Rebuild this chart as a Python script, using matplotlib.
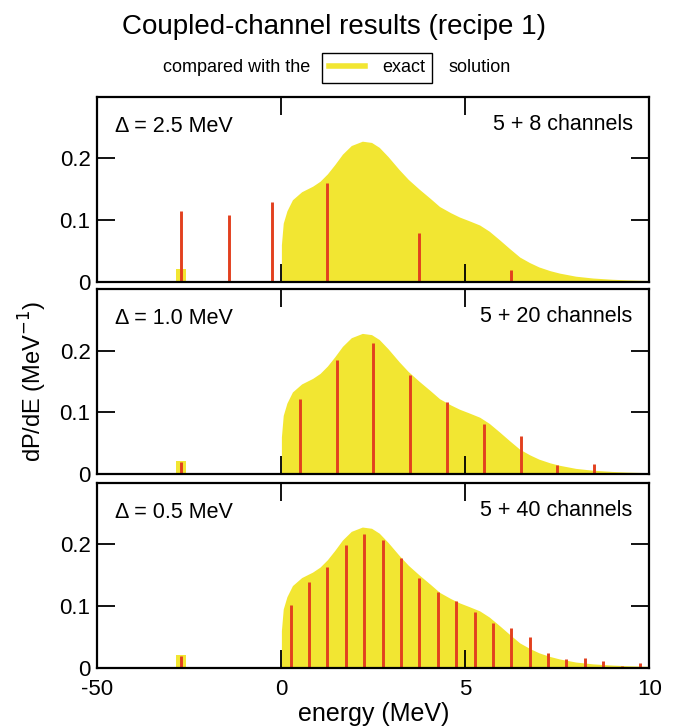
import numpy as np
import matplotlib
matplotlib.use("Agg")
import matplotlib.pyplot as plt
from matplotlib.lines import Line2D

plt.rcParams['font.family'] = ['Liberation Sans', 'DejaVu Sans']

# exact solution (continuum part)
exact_e = [0.0, 0.0, 0.05, 0.15, 0.3, 0.55, 0.85, 1.05, 1.25, 1.45, 1.66, 1.9,
           2.2, 2.45, 2.66, 2.9, 3.2, 3.45, 3.75, 4.05, 4.3, 4.6, 4.84, 5.1,
           5.39, 5.65, 5.93, 6.2, 6.48, 6.75, 7.0, 7.3, 7.56, 8.0, 8.47, 9.0,
           9.4, 10.0]
exact_p = [0.0, 0.06, 0.095, 0.115, 0.133, 0.146, 0.155, 0.163, 0.175, 0.19,
           0.207, 0.221, 0.228, 0.226, 0.218, 0.203, 0.182, 0.166, 0.150,
           0.135, 0.122, 0.112, 0.105, 0.099, 0.092, 0.082, 0.068, 0.054,
           0.040, 0.031, 0.024, 0.018, 0.014, 0.009, 0.006, 0.004, 0.003, 0.002]

# bound state of the exact solution
bound_e = -27.3
bound_p = 0.021

# coupled-channel results, one set per panel
cc_e = [
    [-27.3, -14.2, -2.5, 1.25, 3.75, 6.25, 8.75],
    [-27.3, -2.5, 0.5, 1.5, 2.5, 3.5, 4.5, 5.5, 6.5, 7.5, 8.5, 9.5],
    [-27.3, 0.25, 0.75, 1.25, 1.75, 2.25, 2.75, 3.25, 3.75, 4.25, 4.75,
     5.25, 5.75, 6.25, 6.75, 7.25, 7.75, 8.25, 8.75, 9.25, 9.75],
]
cc_p = [
    [0.114, 0.109, 0.130, 0.160, 0.079, 0.019, 0.002],
    [0.019, 0.002, 0.122, 0.185, 0.212, 0.160, 0.116, 0.081, 0.061, 0.015,
     0.016, 0.002],
    [0.019, 0.102, 0.139, 0.163, 0.199, 0.217, 0.207, 0.178, 0.145, 0.123,
     0.108, 0.090, 0.072, 0.065, 0.049, 0.024, 0.014, 0.015, 0.010, 0.003,
     0.007],
]
delta_labels = ["\u0394 = 2.5 MeV", "\u0394 = 1.0 MeV", "\u0394 = 0.5 MeV"]
channel_labels = ["5 + 8 channels", "5 + 20 channels", "5 + 40 channels"]

yellow = "#f2e632"
red = "#e2401f"


# negative energies are squeezed by a factor 10
def fwd(x):
    x = np.asarray(x, dtype=float)
    return np.where(x < 0, x / 10.0, x)


def inv(x):
    x = np.asarray(x, dtype=float)
    return np.where(x < 0, x * 10.0, x)


fig = plt.figure(figsize=(6.77, 7.28), dpi=100)

left, width = 0.144, 0.815
bottoms = [0.613, 0.349, 0.083]
height = 0.254

axes = []
for i in range(3):
    ax = fig.add_axes([left, bottoms[i], width, height])
    ax.set_xscale('function', functions=(fwd, inv))
    ax.fill_between(exact_e, exact_p, 0, color=yellow, lw=0)
    ax.bar([bound_e], [bound_p], width=2.6, color=yellow, lw=0)
    ax.vlines(cc_e[i], 0, cc_p[i], color=red, lw=2.1)
    ax.set_xlim(-50, 10)
    ax.set_ylim(0, 0.3)
    ax.set_xticks([-50, 0, 5, 10])
    ax.set_yticks([0, 0.1, 0.2])
    ax.set_yticklabels(["0", "0.1", "0.2"])
    ax.tick_params(direction='in', length=13, width=1.3, top=True, right=True,
                   labelsize=16)
    ax.tick_params(axis='y', pad=5)
    ax.tick_params(axis='x', pad=8)
    for s in ax.spines.values():
        s.set_linewidth(1.6)
    ax.text(0.032, 0.84, delta_labels[i], transform=ax.transAxes,
            fontsize=15.5, ha='left', va='center')
    ax.text(0.97, 0.85, channel_labels[i], transform=ax.transAxes,
            fontsize=15.5, ha='right', va='center')
    if i < 2:
        ax.set_xticklabels([])
    else:
        ax.set_xticklabels(["-50", "0", "5", "10"])
        ax.set_xlabel("energy (MeV)", fontsize=18, labelpad=2)
    axes.append(ax)

fig.text(0.049, 0.476, "dP/dE (MeV$^{-1}$)", rotation=90, fontsize=17,
         ha='center', va='center')

fig.text(0.493, 0.963, "Coupled-channel results (recipe 1)", fontsize=20,
         ha='center', va='center')
fig.text(0.458, 0.907, "compared with the", fontsize=13, ha='right',
         va='center')
fig.text(0.662, 0.907, "solution", fontsize=13, ha='left', va='center')
fig.legend(handles=[Line2D([], [], color=yellow, lw=4)], labels=["exact"],
           loc='center', bbox_to_anchor=(0.557, 0.907), fontsize=13,
           frameon=True, fancybox=False, edgecolor='black', framealpha=1,
           handlelength=2.0, borderpad=0.35, handletextpad=1.0)

fig.savefig("out.png", dpi=100)
